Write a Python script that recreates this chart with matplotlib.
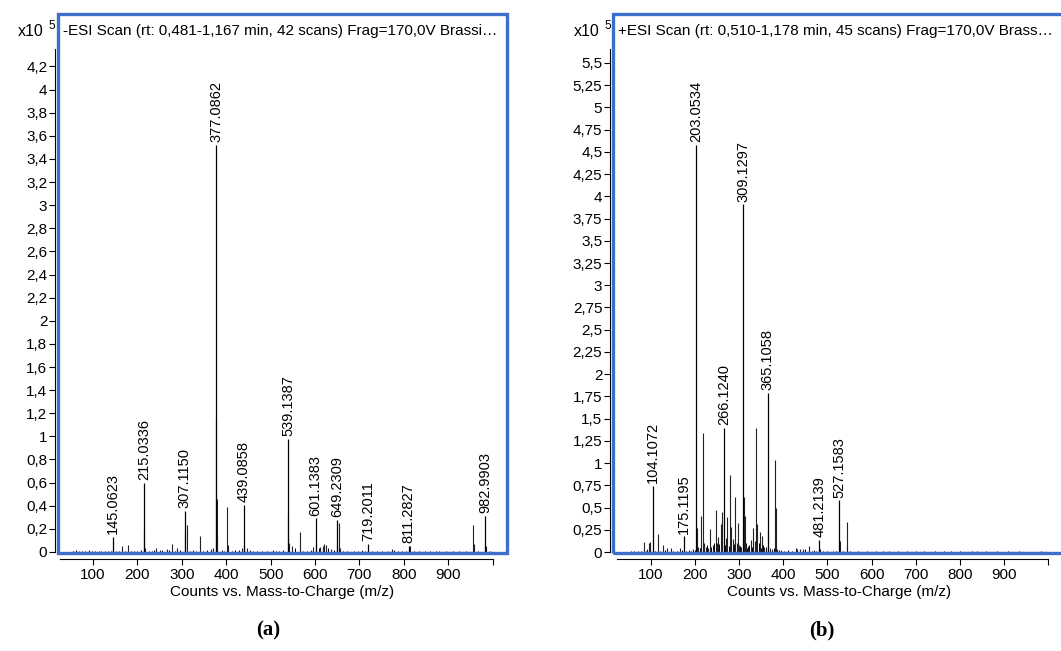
import matplotlib
matplotlib.use("Agg")
import matplotlib.pyplot as plt
from matplotlib.patches import Rectangle

plt.rcParams['font.family'] = ['Liberation Sans', 'DejaVu Sans']

# ---- (a) negative mode spectrum, counts x10^5 ----
neg_title = "-ESI Scan (rt: 0,481-1,167 min, 42 scans) Frag=170,0V Brassi\u2026"
neg_lab_mz = [145.0623, 215.0336, 307.1150, 377.0862, 439.0858, 539.1387,
              601.1383, 649.2309, 719.2011, 811.2827, 982.9903]
neg_lab_h = [0.13, 0.60, 0.357, 3.52, 0.41, 0.975, 0.29, 0.277, 0.07, 0.05, 0.31]
neg_lab_txt = ["145.0623", "215.0336", "307.1150", "377.0862", "439.0858", "539.1387",
               "601.1383", "649.2309", "719.2011", "811.2827", "982.9903"]
neg_mz = [61, 69, 90, 113, 127, 164.5, 178, 216.0, 218.0, 243, 250, 266, 278.6, 290,
          308.1, 311.5, 325, 340, 365, 370, 378.09, 379.09, 380.1, 402.5, 403.5, 436,
          440.1, 446, 453, 505, 540.14, 541.1, 549, 566, 590, 596, 602.1, 612, 618, 621,
          625, 635, 650.2, 654, 656, 705, 720.2, 773, 778, 813.3, 860, 880, 956.6,
          957.6, 984.0]
neg_h = [0.02, 0.012, 0.015, 0.012, 0.01, 0.05, 0.06, 0.19, 0.03, 0.03, 0.02, 0.025,
         0.066, 0.03, 0.17, 0.23, 0.015, 0.14, 0.025, 0.03, 1.15, 0.46, 0.14, 0.385,
         0.06, 0.03, 0.05, 0.035, 0.02, 0.02, 0.33, 0.08, 0.05, 0.175, 0.02, 0.04, 0.06,
         0.04, 0.05, 0.066, 0.06, 0.025, 0.05, 0.25, 0.03, 0.015, 0.02, 0.025, 0.02,
         0.05, 0.01, 0.012, 0.23, 0.07, 0.05]
neg_noise_mz = [55, 75, 82, 98, 105, 118, 133, 140, 152, 158, 171, 185, 192, 200, 207,
                226, 232, 238, 256, 272, 284, 297, 318, 332, 348, 356, 390, 396, 412,
                420, 428, 460, 470, 480, 492, 512, 520, 528, 556, 574, 582, 608, 630,
                642, 664, 672, 688, 696, 712, 728, 740, 752, 764, 786, 795, 804, 822,
                835, 848, 872, 895, 910, 925, 940, 968, 995]
neg_noise_h = [0.006, 0.008, 0.01, 0.007, 0.009, 0.011, 0.006, 0.01, 0.008, 0.012,
               0.009, 0.01, 0.008, 0.011, 0.014, 0.012, 0.01, 0.015, 0.018, 0.02,
               0.012, 0.016, 0.01, 0.012, 0.01, 0.02, 0.014, 0.012, 0.01, 0.015, 0.02,
               0.012, 0.01, 0.008, 0.01, 0.012, 0.01, 0.015, 0.03, 0.012, 0.01, 0.03,
               0.035, 0.02, 0.008, 0.01, 0.008, 0.012, 0.01, 0.008, 0.006, 0.008, 0.01,
               0.012, 0.008, 0.006, 0.01, 0.006, 0.005, 0.008, 0.006, 0.005, 0.006,
               0.005, 0.006, 0.005]
neg_yticks = [0, 0.2, 0.4, 0.6, 0.8, 1, 1.2, 1.4, 1.6, 1.8, 2, 2.2, 2.4, 2.6, 2.8, 3,
              3.2, 3.4, 3.6, 3.8, 4, 4.2]

# ---- (b) positive mode spectrum, counts x10^5 ----
pos_title = "+ESI Scan (rt: 0,510-1,178 min, 45 scans) Frag=170,0V Brass\u2026"
pos_lab_mz = [104.1072, 175.1195, 203.0534, 266.1240, 309.1297, 365.1058, 481.2139, 527.1583]
pos_lab_h = [0.745, 0.175, 4.58, 1.40, 3.91, 1.79, 0.14, 0.58]
pos_lab_txt = ["104.1072", "175.1195", "203.0534", "266.1240", "309.1297", "365.1058",
               "481.2139", "527.1583"]
pos_mz = [83.4, 92, 95.5, 97, 115, 126.5, 137, 144.7, 165.8, 186, 195, 204.5, 207, 214,
          218.6, 221, 225, 230, 233.8, 240, 247.4, 250, 253, 258, 262, 270, 273, 278.5,
          281, 285, 291, 294, 297, 300, 305, 310.1, 313, 316, 320, 326, 332, 335, 337.4,
          341, 347, 352, 357, 366.1, 370, 375, 381.5, 382.5, 386, 395, 428, 432, 438,
          444, 459, 470, 482.2, 528.2, 543.5, 544.5]
pos_h = [0.11, 0.03, 0.10, 0.11, 0.20, 0.075, 0.05, 0.04, 0.04, 0.02, 0.03, 0.27, 0.06,
         0.41, 1.34, 0.10, 0.06, 0.05, 0.26, 0.08, 0.475, 0.10, 0.17, 0.32, 0.455, 0.16,
         0.39, 0.87, 0.28, 0.15, 0.62, 0.10, 0.33, 0.08, 0.06, 0.62, 0.40, 0.10, 0.07,
         0.13, 0.27, 0.12, 1.39, 0.32, 0.22, 0.175, 0.06, 0.24, 0.05, 0.03, 1.04, 0.49,
         0.03, 0.02, 0.04, 0.035, 0.03, 0.035, 0.07, 0.02, 0.03, 0.12, 0.335, 0.07]
pos_noise_mz = [55, 62, 70, 78, 88, 110, 121, 131, 150, 158, 170, 180, 190, 199, 210,
                212, 228, 236, 243, 255, 265, 268, 276, 288, 302, 318, 323, 329, 344,
                350, 355, 361, 378, 390, 402, 410, 420, 450, 465, 475, 490, 500, 512,
                520, 535, 552, 570, 590, 610, 625, 640, 660, 680, 700, 720, 745, 765,
                780, 800, 828, 840, 860, 885, 910, 935, 960, 985]
pos_noise_h = [0.006, 0.008, 0.006, 0.01, 0.01, 0.012, 0.01, 0.02, 0.012, 0.015, 0.02,
               0.015, 0.012, 0.02, 0.05, 0.04, 0.08, 0.06, 0.1, 0.09, 0.12, 0.08, 0.07,
               0.09, 0.07, 0.05, 0.08, 0.06, 0.1, 0.05, 0.08, 0.06, 0.04, 0.02, 0.015,
               0.02, 0.012, 0.03, 0.015, 0.012, 0.01, 0.012, 0.01, 0.012, 0.008, 0.01,
               0.008, 0.01, 0.012, 0.01, 0.008, 0.01, 0.008, 0.012, 0.01, 0.008, 0.012,
               0.01, 0.008, 0.015, 0.01, 0.008, 0.006, 0.008, 0.006, 0.005, 0.006]
pos_yticks = [0, 0.25, 0.5, 0.75, 1, 1.25, 1.5, 1.75, 2, 2.25, 2.5, 2.75, 3, 3.25, 3.5,
              3.75, 4, 4.25, 4.5, 4.75, 5, 5.25, 5.5]

xticks = [100, 200, 300, 400, 500, 600, 700, 800, 900, 1000]
xticklabels = ["100", "200", "300", "400", "500", "600", "700", "800", "900", ""]

W, H = 1061, 651
fig = plt.figure(figsize=(W / 100, H / 100), dpi=100)


def px_box(x0, y0, x1, y1):
    return [x0 / W, 1 - y1 / H, (x1 - x0) / W, (y1 - y0) / H]


def fmt(v):
    s = ("%g" % v).replace(".", ",")
    return s


def spectrum(box, xlim, ylim, ytop, xstart, title, lab_mz, lab_h, lab_txt,
             mz, h, noise_mz, noise_h, yticks, sub, sub_x, exp_x):
    ax = fig.add_axes(px_box(*box))
    ax.set_xlim(*xlim)
    ax.set_ylim(*ylim)
    ax.hlines(0, 50, 1000, colors='black', lw=0.8)
    ax.vlines(noise_mz, 0, noise_h, colors='black', lw=0.7)
    ax.vlines(mz, 0, h, colors='#222222', lw=0.8)
    ax.vlines(lab_mz, 0, lab_h, colors='black', lw=0.9)
    for m, v, t in zip(lab_mz, lab_h, lab_txt):
        ax.annotate(t, (m, v), xytext=(0, 2), textcoords='offset points',
                    rotation=90, ha='center', va='bottom', fontsize=10.5)

    for s in ['top', 'right']:
        ax.spines[s].set_visible(False)
    ax.spines['left'].set_position(('outward', 2.2))
    ax.spines['left'].set_bounds(0, ytop)
    ax.spines['bottom'].set_position(('outward', 4.3))
    ax.spines['bottom'].set_bounds(xstart, 1000)
    for s in ['left', 'bottom']:
        ax.spines[s].set_linewidth(0.8)

    ax.set_xticks(xticks)
    ax.set_xticklabels(xticklabels)
    ax.set_yticks(yticks)
    ax.set_yticklabels([fmt(v) for v in yticks])
    ax.tick_params(axis='both', direction='out', length=4, width=0.8, labelsize=11)
    ax.tick_params(axis='y', pad=1.5)
    ax.tick_params(axis='x', pad=2.5)

    ax.add_patch(Rectangle((0, 0), 1, 1, transform=ax.transAxes, fill=False,
                           ec='#3b6fc9', lw=2.4, clip_on=False, zorder=5))
    ax.text(0.011, 0.969, title, transform=ax.transAxes, ha='left', va='center',
            fontsize=11)

    cx = (box[0] + box[2]) / 2
    fig.text(cx / W, 1 - 592 / H, "Counts vs. Mass-to-Charge (m/z)",
             ha='center', va='center', fontsize=11)
    fig.text(sub_x / W, 1 - 630 / H, sub, ha='center', va='center',
             fontsize=15, fontweight='bold', family='Liberation Serif')
    fig.text(exp_x / W, 1 - 31 / H, "x10", ha='right', va='center', fontsize=11.5)
    fig.text((exp_x + 4) / W, 1 - 26 / H, "5", ha='left', va='center', fontsize=8.5)
    return ax


spectrum((58, 14, 507, 553), (21.2, 1032.4), (-0.009, 4.654), 4.35, 26, neg_title,
         neg_lab_mz, neg_lab_h, neg_lab_txt, neg_mz, neg_h, neg_noise_mz, neg_noise_h,
         neg_yticks, "(a)", 268, 44)
spectrum((613, 14, 1066, 553), (13.8, 1041.0), (-0.011, 6.05), 5.66, 23, pos_title,
         pos_lab_mz, pos_lab_h, pos_lab_txt, pos_mz, pos_h, pos_noise_mz, pos_noise_h,
         pos_yticks, "(b)", 822, 600)

fig.savefig("out.png", dpi=100)
